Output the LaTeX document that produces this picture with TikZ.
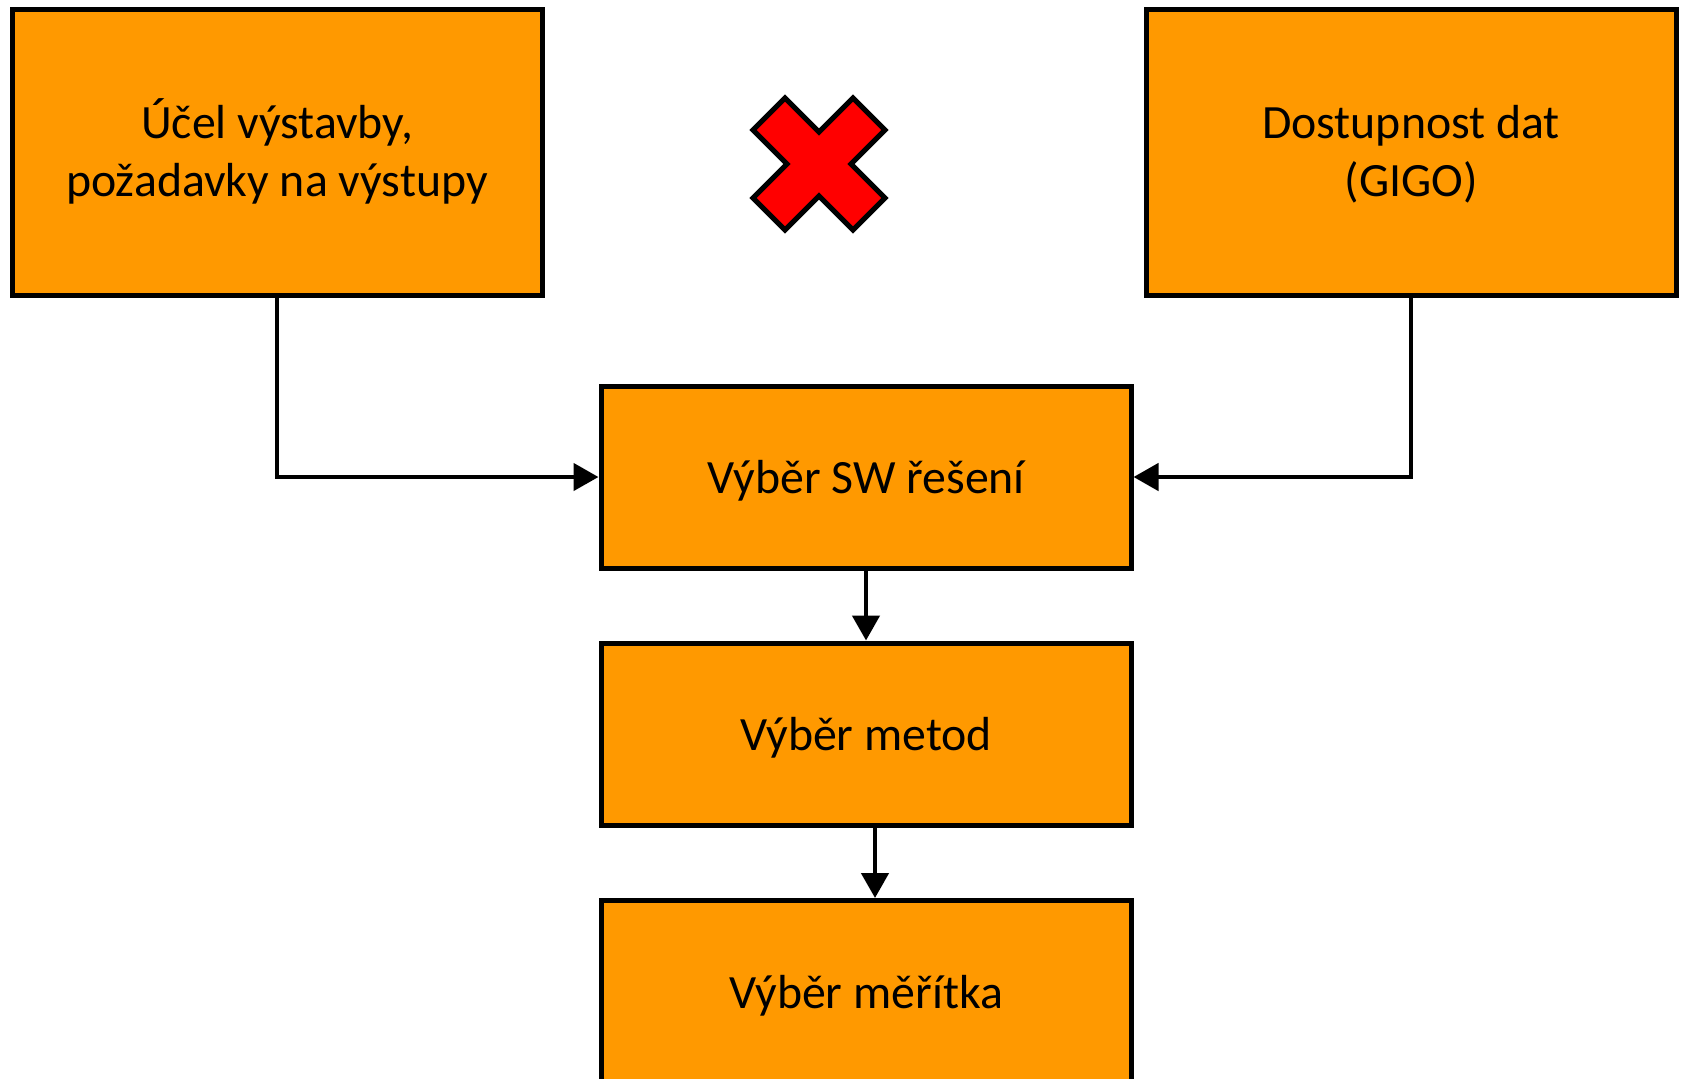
\documentclass[tikz,border=0pt]{standalone}
\usepackage{fontspec}
\setmainfont{Carlito}
\usetikzlibrary{arrows.meta}
\definecolor{boxorange}{RGB}{255,153,0}
\definecolor{xred}{RGB}{255,0,0}
\newcommand{\dn}[1]{\raisebox{-2pt}[\height][\depth]{#1}}
\newcommand{\twol}[2]{\dn{\begin{tabular}{@{}c@{}}#1\\#2\end{tabular}}}
\begin{document}
\begin{tikzpicture}[x=0.5pt,y=-0.5pt,
  box/.style={draw=black,fill=boxorange,line width=2.5pt,minimum width=265pt,align=center,
    font=\fontsize{23.9}{29}\selectfont,inner sep=0pt},
  tall/.style={minimum height=143pt},
  short/.style={minimum height=91pt},
  conn/.style={line width=2.3pt,-{Triangle[length=12.5pt,width=13.5pt]}},
  xmark/.style={draw=black,fill=xred,line width=2.5pt,line join=miter}]
\useasboundingbox (0,0) rectangle (1681,1078);
\node[box,tall] (ucel) at (277,152) {\twol{Účel výstavby,}{požadavky na výstupy}};
\node[box,tall] (data) at (1411,152) {\twol{Dostupnost dat}{(GIGO)}};
\node[box,short] (sw) at (866,477) {\dn{Výběr SW řešení}};
\node[box,short] (met) at (866,734) {\dn{Výběr metod}};
\node[box,short] (mer) at (866,991.5) {\dn{Výběr měřítka}};
\draw[conn] (ucel.south) |- (sw.west);
\draw[conn] (data.south) |- (sw.east);
\draw[conn] (sw.south) -- (met.north);
\draw[conn] ([xshift=4.5pt]met.south) -- ([xshift=4.5pt]mer.north);
\coordinate (xc) at (819,164);
\begin{scope}[shift={(xc)}]
\path[xmark] (0,-32) -- (-34,-66) -- (-66,-34) -- (-32,0) -- (-66,34) -- (-34,66) -- (0,32)
  -- (34,66) -- (66,34) -- (32,0) -- (66,-34) -- (34,-66) -- cycle;
\end{scope}
\end{tikzpicture}
\end{document}
